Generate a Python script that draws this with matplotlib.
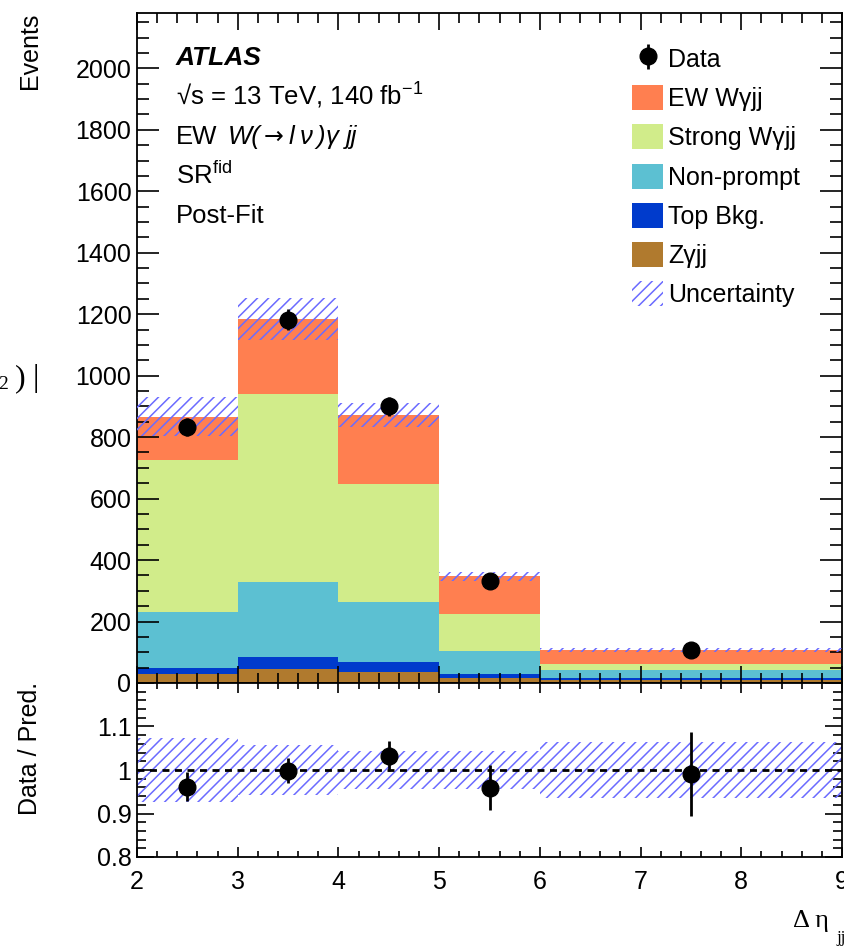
import numpy as np
import matplotlib
matplotlib.use('Agg')
import matplotlib.pyplot as plt
from matplotlib.ticker import MultipleLocator, FixedLocator, FuncFormatter
from matplotlib.patches import Patch

plt.rcParams['font.family'] = ['Liberation Sans', 'DejaVu Sans']
plt.rcParams['mathtext.fontset'] = 'custom'
plt.rcParams['mathtext.rm'] = 'Liberation Sans'
plt.rcParams['mathtext.it'] = 'Liberation Sans:italic'
plt.rcParams['mathtext.bf'] = 'Liberation Sans:bold'
plt.rcParams['hatch.linewidth'] = 1.1

# delta eta_jj binning and post-fit yields
edges = [2, 3, 4, 5, 6, 9]
zgamma_jj = [28, 45, 35, 16, 9]
top_bkg = [21, 39, 32, 12, 6]
non_prompt = [182, 246, 195, 75, 26]
strong_wgjj = [494, 611, 386, 120, 20]
ew_wgjj = [141, 243, 224, 124, 47]
data_counts = [833, 1182, 900, 333, 107]
total_unc = [63, 69, 38, 15, 7]

labels = ['Zγjj', 'Top Bkg.', 'Non-prompt', 'Strong Wγjj', 'EW Wγjj']
colors = ['#B07A2E', '#003BCC', '#5CC0D2', '#D1EC8A', '#FF7F50']
hatch_col = (0.42, 0.42, 1.0)

edges = np.array(edges, dtype=float)
centers = 0.5 * (edges[:-1] + edges[1:])
widths = np.diff(edges)
stack = [np.array(v, dtype=float) for v in (zgamma_jj, top_bkg, non_prompt, strong_wgjj, ew_wgjj)]
total = np.sum(stack, axis=0)
data = np.array(data_counts, dtype=float)
data_err = np.sqrt(data)
unc = np.array(total_unc, dtype=float)

W, H = 844, 947
fig = plt.figure(figsize=(W / 100, H / 100), dpi=100)

def fx(px):
    return px / W

def fy(py):
    return 1 - py / H

ax = fig.add_axes([fx(137), fy(683), fx(842) - fx(137), fy(13) - fy(683)])
rax = fig.add_axes([fx(137), fy(857), fx(842) - fx(137), fy(683) - fy(857)])

# stacked histogram
bottom = np.zeros(len(centers))
handles = {}
for vals, lab, col in zip(stack, labels, colors):
    handles[lab] = ax.bar(edges[:-1], vals, width=widths, bottom=bottom, align='edge',
                          color=col, linewidth=0, label=lab)
    bottom = bottom + vals

ax.bar(edges[:-1], 2 * unc, width=widths, bottom=total - unc, align='edge',
       fill=False, hatch='///', edgecolor=hatch_col, linewidth=0, zorder=3)

dat = ax.errorbar(centers, data, yerr=data_err, fmt='o', color='black', ms=12,
                  elinewidth=2, capsize=0, zorder=5, label='Data')

ax.set_xlim(2, 9)
ax.set_ylim(0, 2180)

# ratio panel
ratio = data / total
ratio_err = data_err / total
rel_unc = unc / total
rax.bar(edges[:-1], 2 * rel_unc, width=widths, bottom=1 - rel_unc, align='edge',
        fill=False, hatch='///', edgecolor=hatch_col, linewidth=0, zorder=2)
rax.axhline(1.0, color='black', lw=2, ls=(0, (2.5, 2)), zorder=3)
rax.errorbar(centers, ratio, yerr=ratio_err, fmt='o', color='black', ms=12,
             elinewidth=2, capsize=0, zorder=5)
rax.set_xlim(2, 9)
rax.set_ylim(0.8, 1.2)

# ticks, ATLAS style
for a in (ax, rax):
    for s in a.spines.values():
        s.set_linewidth(1.3)
    a.tick_params(which='both', direction='in', top=True, right=True, width=1.2,
                  labelsize=18, colors='black')

ax.xaxis.set_major_locator(MultipleLocator(1))
ax.xaxis.set_minor_locator(MultipleLocator(0.2))
ax.yaxis.set_major_locator(MultipleLocator(200))
ax.yaxis.set_minor_locator(MultipleLocator(50))
ax.tick_params(axis='x', which='major', length=12)
ax.tick_params(axis='x', which='minor', length=7)
ax.tick_params(axis='y', which='major', length=16, pad=4)
ax.tick_params(axis='y', which='minor', length=8.5)
ax.tick_params(axis='x', labelbottom=False)

rax.xaxis.set_major_locator(MultipleLocator(1))
rax.xaxis.set_minor_locator(MultipleLocator(0.2))
rax.yaxis.set_major_locator(FixedLocator([0.8, 0.9, 1.0, 1.1, 1.2]))
rax.yaxis.set_minor_locator(MultipleLocator(0.02))
rax.yaxis.set_major_formatter(FuncFormatter(lambda v, p: '' if v > 1.15 else '%g' % v))
rax.tick_params(axis='x', which='major', length=7, pad=9)
rax.tick_params(axis='x', which='minor', length=4)
rax.tick_params(axis='y', which='major', length=12, pad=4)
rax.tick_params(axis='y', which='minor', length=6.5)

fig.text(fx(30), fy(13), 'Events', rotation=90, ha='center', va='top', fontsize=18)
fig.text(fx(30), fy(682), 'Data / Pred.', rotation=90, ha='center', va='top', fontsize=18)
fig.text(fx(793), fy(927), 'Δ η', family='Liberation Serif', fontsize=19, va='baseline')
fig.text(fx(836), fy(942), 'jj', family='Liberation Serif', fontsize=12, va='baseline')
fig.text(fx(26), fy(386), ')', family='Liberation Serif', fontsize=23, ha='right', va='baseline')
fig.text(fx(39), fy(386), '|', family='Liberation Serif', fontsize=23, ha='right', va='baseline')
fig.text(fx(8), fy(389), '2', family='Liberation Serif', fontsize=14, ha='right', va='baseline')

# labels block
tx = fx(176)
fig.text(tx, fy(65), 'ATLAS', fontsize=19, fontweight='bold', fontstyle='italic', va='baseline')
fig.text(tx, fy(105), '√s = 13 TeV, 140 fb$^{-1}$', fontsize=18.5, va='baseline')
fig.text(tx, fy(144), 'EW', fontsize=18.5, va='baseline')
# process label, spaced out piece by piece
for piece, px in [('W(', 228), ('l', 289), ('ν', 300), (')', 316), ('γ', 326), ('jj', 346)]:
    fig.text(fx(px), fy(144), piece, fontsize=18.5, fontstyle='italic', va='baseline')
fig.text(fx(264), fy(144), '→', family='DejaVu Sans', fontsize=17, va='baseline')
fig.text(tx, fy(184), 'SR$^{\\mathrm{fid}}$', fontsize=18.5, va='baseline')
fig.text(tx, fy(223), 'Post-Fit', fontsize=18.5, va='baseline')

leg_handles = [dat, handles['EW Wγjj'], handles['Strong Wγjj'], handles['Non-prompt'],
               handles['Top Bkg.'], handles['Zγjj'],
               Patch(fill=False, hatch='///', edgecolor=hatch_col, linewidth=0)]
leg_labels = ['Data', 'EW Wγjj', 'Strong Wγjj', 'Non-prompt', 'Top Bkg.', 'Zγjj', 'Uncertainty']
ax.legend(leg_handles, leg_labels, loc='upper left', bbox_to_anchor=(fx(632), fy(46)),
          bbox_transform=fig.transFigure, frameon=False, fontsize=18, borderpad=0,
          borderaxespad=0, handlelength=1.24, handleheight=1.16, handletextpad=0.2,
          labelspacing=0.53)

fig.savefig('out.png', dpi=100)
